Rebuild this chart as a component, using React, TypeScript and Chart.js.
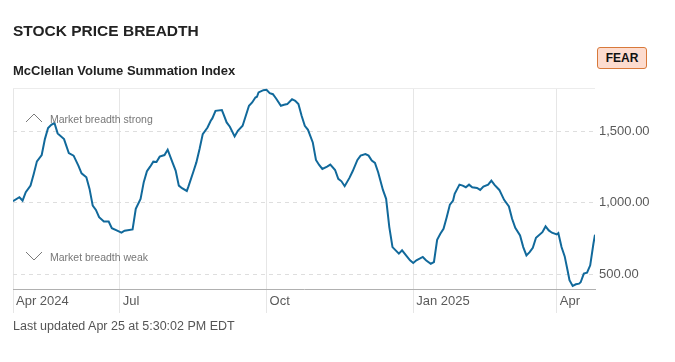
import React, { useEffect, useRef } from 'react';
import { Chart, registerables } from 'chart.js';

Chart.register(...registerables);

// Days since Apr 25, 2024
const dayOffsets = [
  0, 4, 6, 8, 11, 13, 15, 18, 20, 22, 24, 26, 28, 32, 35, 38, 41, 43, 46, 48,
  50, 52, 54, 57, 60, 62, 65, 68, 70, 75, 77, 80, 82, 84, 86, 88, 90, 92, 95, 97,
  100, 102, 104, 106, 109, 110, 113, 115, 117, 119, 122, 124, 125, 127, 131, 132, 134, 136, 139, 141,
  144, 146, 148, 150, 152, 153, 154, 157, 159, 161, 163, 165, 168, 170, 172, 175, 177, 179, 181, 183,
  185, 188, 190, 192, 194, 197, 199, 202, 204, 206, 208, 211, 213, 216, 218, 221, 223, 225, 227, 229,
  232, 234, 236, 238, 240, 242, 244, 247, 249, 251, 253, 255, 257, 259, 262, 264, 266, 268, 270, 272,
  274, 276, 277, 280, 282, 284, 286, 288, 291, 293, 295, 298, 300, 302, 305, 308, 311, 313, 315, 318,
  320, 322, 324, 326, 328, 332, 334, 336, 338, 341, 342, 344, 346, 348, 349, 351, 353, 355, 356, 358,
  360, 362, 364, 365,
];

// McClellan Volume Summation Index
const summationIndex = [
  1012, 1039, 1016, 1074, 1120, 1201, 1289, 1333, 1444, 1521, 1544, 1556, 1484, 1444, 1347, 1329, 1259, 1206, 1178, 1097,
  981, 951, 900, 870, 870, 824, 808, 792, 806, 815, 958, 1028, 1144, 1220, 1252, 1287, 1285, 1322, 1333, 1370,
  1282, 1225, 1120, 1102, 1083, 1113, 1213, 1282, 1375, 1479, 1525, 1572, 1588, 1641, 1646, 1618, 1560, 1530, 1463, 1502,
  1537, 1607, 1676, 1699, 1734, 1739, 1769, 1785, 1787, 1764, 1757, 1727, 1676, 1683, 1688, 1722, 1711, 1688, 1607, 1537,
  1509, 1421, 1299, 1264, 1236, 1252, 1266, 1229, 1167, 1150, 1116, 1174, 1220, 1299, 1329, 1340, 1329, 1294, 1278, 1213,
  1090, 1028, 831, 692, 669, 646, 669, 627, 600, 581, 600, 611, 623, 600, 576, 588, 743, 785, 819, 900,
  988, 1016, 1063, 1127, 1120, 1109, 1127, 1109, 1104, 1090, 1113, 1127, 1155, 1125, 1090, 1021, 975, 889, 826, 773,
  692, 634, 657, 687, 757, 796, 836, 808, 792, 780, 789, 692, 627, 518, 461, 421, 433, 437, 447, 507,
  514, 565, 715, 778,
];

const xTickDays = [0, 67, 159, 251, 341];
const xTickLabels = ['Apr 2024', 'Jul', 'Oct', 'Jan 2025', 'Apr'];
const yTickValues = [500, 1000, 1500];
const Y_MIN = 400;
const Y_MAX = 1800;
const X_MAX = 365;

const FONT = "'Liberation Sans', Arial, Helvetica, sans-serif";

export default function App() {
  const ref = useRef<HTMLCanvasElement>(null);

  useEffect(() => {
    document.body.style.margin = '0';
    if (!ref.current) return;
    const chart = new Chart(ref.current, {
      type: 'line',
      data: {
        datasets: [
          {
            data: dayOffsets.map((d, i) => ({ x: d, y: summationIndex[i] })),
            borderColor: '#11699b',
            borderWidth: 2,
            pointRadius: 0,
            tension: 0,
            fill: false,
          },
        ],
      },
      options: {
        animation: false,
        responsive: false,
        maintainAspectRatio: false,
        layout: { padding: { left: 13, top: 88, right: 0, bottom: 43 } },
        plugins: { legend: { display: false }, tooltip: { enabled: false } },
        scales: {
          x: {
            type: 'linear',
            position: 'bottom',
            min: 0,
            max: X_MAX,
            afterBuildTicks: (s: any) => {
              s.ticks = xTickDays.map((v) => ({ value: v }));
            },
            afterFit: (s: any) => {
              s.height = 30;
            },
            ticks: {
              autoSkip: false,
              maxRotation: 0,
              minRotation: 0,
              align: 'start',
              labelOffset: 3,
              padding: -19,
              color: '#5a5a5a',
              font: { family: FONT, size: 13 },
              callback: (v: any) => {
                const i = xTickDays.indexOf(Number(v));
                return i >= 0 ? xTickLabels[i] : '';
              },
            },
            grid: {
              color: '#e6e6e6',
              lineWidth: 1,
              drawTicks: true,
              tickLength: 24,
              tickColor: '#e6e6e6',
            },
            border: { display: true, color: '#b0b0b0', width: 1 },
          },
          y: {
            type: 'linear',
            position: 'right',
            min: Y_MIN,
            max: Y_MAX,
            afterBuildTicks: (s: any) => {
              s.ticks = [...yTickValues, Y_MAX].map((v) => ({ value: v }));
            },
            afterFit: (s: any) => {
              s.width = 80;
            },
            ticks: {
              padding: 4,
              color: '#5a5a5a',
              font: { family: FONT, size: 13 },
              callback: (v: any) =>
                Number(v) === Y_MAX
                  ? ''
                  : Number(v).toLocaleString('en-US', { minimumFractionDigits: 2, maximumFractionDigits: 2 }),
            },
            grid: {
              drawTicks: false,
              lineWidth: 1,
              color: (c: any) => (c.tick && c.tick.value === Y_MAX ? '#ececec' : '#dedede'),
            },
            border: {
              display: false,
              dash: (c: any) => (c.tick && c.tick.value === Y_MAX ? [] : [4, 4]),
            },
          },
        },
      },
    } as any);
    return () => chart.destroy();
  }, []);

  const chevronStyle: React.CSSProperties = { position: 'absolute', left: 25, width: 18, height: 10 };
  const noteStyle: React.CSSProperties = {
    position: 'absolute',
    left: 50,
    fontFamily: FONT,
    fontSize: 10.5,
    lineHeight: '12px',
    color: '#777',
    whiteSpace: 'nowrap',
  };

  return (
    <div style={{ position: 'fixed', left: 0, top: 0, width: 675, height: 362, background: '#fff', overflow: 'hidden' }}>
      <canvas ref={ref} width={675} height={362} style={{ position: 'absolute', left: 0, top: 0, width: 675, height: 362 }} />
      <div
        style={{
          position: 'absolute',
          left: 13,
          top: 21.6,
          fontFamily: FONT,
          fontWeight: 700,
          fontSize: 15.5,
          lineHeight: '18px',
          color: '#222',
          whiteSpace: 'nowrap',
        }}
      >
        STOCK PRICE BREADTH
      </div>
      <div
        style={{
          position: 'absolute',
          left: 13,
          top: 62.5,
          fontFamily: FONT,
          fontWeight: 700,
          fontSize: 13,
          lineHeight: '16px',
          color: '#222',
          whiteSpace: 'nowrap',
        }}
      >
        McClellan Volume Summation Index
      </div>
      <div
        style={{
          position: 'absolute',
          left: 597,
          top: 47,
          width: 50,
          height: 22,
          boxSizing: 'border-box',
          border: '1px solid #d8793a',
          borderRadius: 3,
          background: '#fddccf',
          fontFamily: FONT,
          fontWeight: 700,
          fontSize: 12,
          lineHeight: '20px',
          textAlign: 'center',
          color: '#111',
        }}
      >
        FEAR
      </div>
      <svg style={{ ...chevronStyle, top: 112.5 }} viewBox="0 0 18 10">
        <polyline points="1,9 9,1 17,9" fill="none" stroke="#7a7a7a" strokeWidth={1} />
      </svg>
      <div style={{ ...noteStyle, top: 113.3 }}>Market breadth strong</div>
      <svg style={{ ...chevronStyle, top: 251 }} viewBox="0 0 18 10">
        <polyline points="1,1 9,9 17,1" fill="none" stroke="#7a7a7a" strokeWidth={1} />
      </svg>
      <div style={{ ...noteStyle, top: 251 }}>Market breadth weak</div>
      <div
        style={{
          position: 'absolute',
          left: 13,
          top: 319,
          fontFamily: FONT,
          fontSize: 12.5,
          lineHeight: '15px',
          color: '#555',
          whiteSpace: 'nowrap',
        }}
      >
        Last updated Apr 25 at 5:30:02 PM EDT
      </div>
    </div>
  );
}
